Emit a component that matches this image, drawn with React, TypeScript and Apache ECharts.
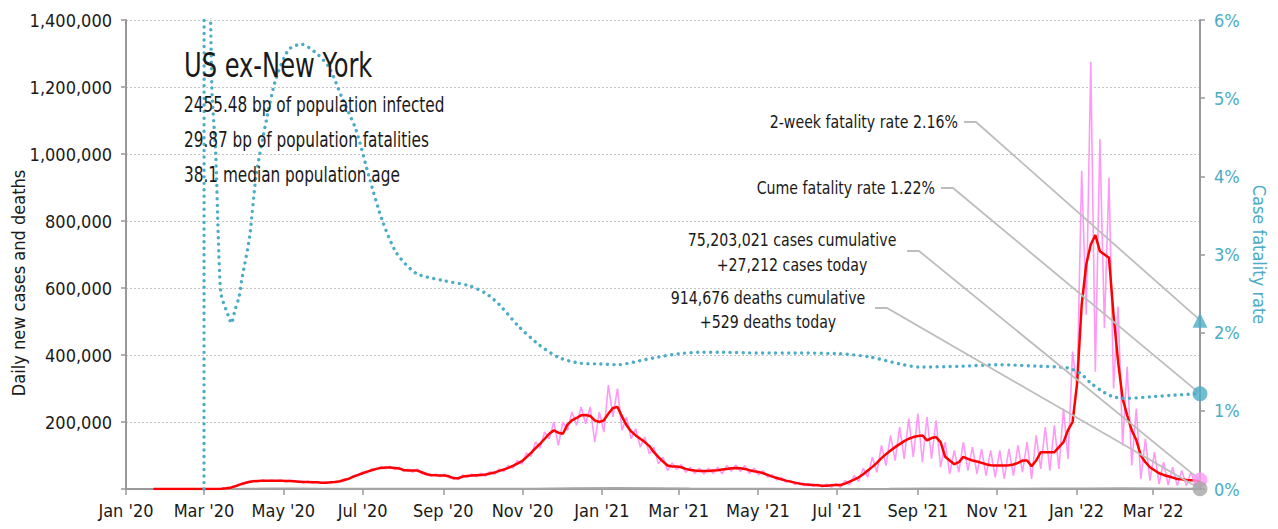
import React, { useEffect, useRef } from "react";
import * as echarts from "echarts";

const FONT = "'Liberation Sans Narrow', 'Arial Narrow', 'DejaVu Sans Condensed', sans-serif";
const DAY_MS = 86400000;

// Daily series sampled every 3.5 days from this date
const SERIES_START = "2020-01-22";
const STEP_DAYS = 3.5;

// Daily new cases (thousands)
const dailyCasesK = [
  0, 0, 0, 0, 0, 0, 0, 0, 0, 0, 0,
  0, 0, 0.2, 0.5, 1, 3, 6, 10, 15, 19,
  22, 25, 22, 27, 23, 27, 23, 27, 22, 26,
  21, 24, 19, 23, 18, 22, 17, 21, 18, 23,
  21, 30, 29, 41, 40, 51, 48, 60, 58, 67,
  60, 68, 58, 65, 52, 59, 50, 60, 46, 48,
  38, 45, 37, 44, 33, 36, 28, 42, 35, 45,
  36, 47, 38, 52, 44, 60, 52, 70, 62, 85,
  74, 108, 98, 140, 122, 170, 150, 200, 130, 200,
  175, 230, 190, 245, 195, 245, 140, 230, 170, 310,
  215, 300, 175, 215, 150, 180, 125, 155, 105, 125,
  75, 95, 55, 78, 58, 73, 50, 65, 46, 62,
  45, 62, 46, 65, 45, 70, 53, 72, 52, 70,
  46, 62, 42, 55, 35, 43, 27, 34, 20, 26,
  13, 20, 10, 16, 8, 14, 6, 14, 6, 16,
  5, 25, 12, 40, 22, 62, 35, 95, 50, 130,
  70, 160, 85, 185, 90, 210, 95, 225, 80, 215,
  90, 205, 65, 140, 45, 115, 50, 140, 55, 125,
  45, 120, 40, 115, 35, 115, 30, 120, 40, 130,
  50, 140, 30, 160, 60, 185, 55, 190, 60, 240,
  90, 410, 300, 950, 520, 1275, 350, 1045, 480, 930,
  300, 545, 130, 365, 70, 240, 30, 150, 25, 110,
  15, 80, 12, 65, 10, 55, 10, 50, 12, 27.212,
];

// 7-day average of new cases (thousands)
const avgCasesK = [
  0, 0, 0, 0, 0, 0, 0, 0, 0, 0, 0,
  0, 0, 0.1, 0.3, 0.8, 2, 4, 8, 13, 17,
  21, 23, 24, 25, 25, 25, 25, 25, 24, 24,
  23, 22, 21, 21, 20, 20, 19, 19, 20, 21,
  23, 27, 31, 37, 42, 47, 52, 56, 60, 63,
  64, 64, 63, 61, 57, 55, 55, 55, 50, 44,
  42, 41, 40, 40, 38, 32, 32, 37, 39, 40,
  41, 42, 43, 46, 49, 54, 58, 63, 69, 76,
  83, 95, 108, 122, 135, 150, 165, 175, 168, 165,
  192, 205, 212, 220, 221, 218, 205, 200, 205, 225,
  242, 245, 216, 190, 172, 160, 150, 140, 128, 110,
  95, 82, 70, 67, 67, 65, 60, 57, 55, 54,
  54, 54, 55, 56, 58, 60, 62, 63, 62, 60,
  56, 53, 51, 47, 42, 37, 33, 29, 25, 22,
  19, 16, 14, 13, 12, 11, 10, 10, 11, 12,
  12, 16, 22, 28, 35, 44, 55, 66, 78, 92,
  104, 115, 125, 134, 143, 150, 155, 158, 160, 145,
  152, 155, 140, 96, 85, 74, 80, 96, 90, 85,
  82, 78, 74, 71, 70, 70, 70, 71, 73, 78,
  85, 85, 68, 85, 110, 110, 110, 110, 125, 140,
  176, 200, 316, 550, 670, 730, 758, 710, 700, 690,
  520, 380, 270, 220, 175, 146, 100, 80, 65, 56,
  47, 42, 38, 34, 30, 29, 27, 26, 25, 24,
];

// Cumulative case fatality rate (%)
const cfrDates = [
  "2020-03-01", "2020-03-02", "2020-03-05", "2020-03-07", "2020-03-10", "2020-03-12",
  "2020-03-14", "2020-03-18", "2020-03-20", "2020-03-22", "2020-03-25", "2020-03-28",
  "2020-03-30", "2020-04-05", "2020-04-10", "2020-04-18", "2020-04-25", "2020-05-05",
  "2020-05-15", "2020-05-26", "2020-06-05", "2020-06-15", "2020-06-26", "2020-07-06",
  "2020-07-16", "2020-07-27", "2020-08-11", "2020-08-31", "2020-09-21", "2020-10-04",
  "2020-10-14", "2020-10-29", "2020-11-14", "2020-11-29", "2020-12-15", "2020-12-30",
  "2021-01-14", "2021-01-30", "2021-02-14", "2021-03-01", "2021-03-17", "2021-04-01",
  "2021-05-02", "2021-06-02", "2021-07-03", "2021-07-26", "2021-08-18", "2021-09-02",
  "2021-10-03", "2021-11-03", "2021-12-04", "2021-12-25", "2022-01-04", "2022-01-11",
  "2022-01-19", "2022-01-29", "2022-02-09", "2022-02-27", "2022-03-16", "2022-04-06",
];
const cfrValues = [
  0, 40, 8, 5.14, 4.3, 3.22,
  2.5, 2.29, 2.2, 2.12, 2.3, 2.46,
  2.67, 3.22, 4.0, 4.72, 5.23, 5.62,
  5.69, 5.58, 5.4, 5.01, 4.59, 3.99,
  3.44, 3.02, 2.76, 2.67, 2.6, 2.5,
  2.36, 2.08, 1.84, 1.68, 1.61, 1.6,
  1.59, 1.64, 1.69, 1.73, 1.75, 1.75,
  1.74, 1.74, 1.73, 1.69, 1.6, 1.56,
  1.57, 1.59, 1.57, 1.55, 1.48, 1.37,
  1.27, 1.18, 1.16, 1.18, 1.2, 1.22,
];

// Daily deaths
const deathDates = [
  "2020-01-22", "2020-03-01", "2020-03-20", "2020-04-05", "2020-04-20", "2020-05-10",
  "2020-06-01", "2020-06-25", "2020-07-20", "2020-08-10", "2020-09-10", "2020-10-10",
  "2020-11-10", "2020-12-10", "2021-01-12", "2021-02-10", "2021-03-10", "2021-04-10",
  "2021-05-10", "2021-06-10", "2021-07-10", "2021-08-10", "2021-09-10", "2021-10-10",
  "2021-11-10", "2021-12-10", "2022-01-10", "2022-02-05", "2022-03-05", "2022-04-06",
];
const deathValues = [
  0, 0, 50, 900, 1500, 1200,
  850, 550, 850, 1000, 780, 700,
  1100, 2300, 3200, 2500, 1300, 700,
  600, 350, 230, 550, 1700, 1500,
  1050, 1200, 1700, 2400, 1400, 529,
];

const monthTicks = [
  "2020-01-01", "2020-03-01", "2020-05-01", "2020-07-01", "2020-09-01", "2020-11-01",
  "2021-01-01", "2021-03-01", "2021-05-01", "2021-07-01", "2021-09-01", "2021-11-01",
  "2022-01-01", "2022-03-01",
];
const monthNames = ["Jan", "Feb", "Mar", "Apr", "May", "Jun", "Jul", "Aug", "Sep", "Oct", "Nov", "Dec"];

const titleText = "US ex-New York";
const statLines = [
  "2455.48 bp of population infected",
  "29.87 bp of population fatalities",
  "38.1 median population age",
];
const fatality2wk = 2.16;
const fatalityCume = 1.22;
const casesCumulative = "75,203,021";
const casesToday = 27212;
const deathsCumulative = "914,676";
const deathsToday = 529;

const CYAN = "#4BACC6";
const PINK = "#FF99F5";
const RED = "#FF0000";
const GREY = "#A6A6A6";

const toT = (s: string) => Date.parse(s + "T00:00:00Z");

export default function App() {
  const ref = useRef<HTMLDivElement>(null);

  useEffect(() => {
    const chart = echarts.init(ref.current!, null, { renderer: "svg" });
    const t0 = toT(SERIES_START);
    const dates = dailyCasesK.map((_, i) => t0 + i * STEP_DAYS * DAY_MS);
    const lastT = dates[dates.length - 1];
    const xMin = toT("2020-01-01");
    const tickVals = monthTicks.map(toT);

    const fmtMonth = (v: number) => {
      const d = new Date(v);
      return `${monthNames[d.getUTCMonth()]} '${String(d.getUTCFullYear()).slice(2)}`;
    };

    chart.setOption({
      animation: false,
      backgroundColor: "#fff",
      textStyle: { fontFamily: FONT },
      grid: { left: 126, top: 20, width: 1074, height: 469, containLabel: false },
      xAxis: {
        type: "value",
        min: xMin,
        max: lastT,
        axisLine: { show: true, lineStyle: { color: "#999", width: 2 } },
        axisTick: { show: true, customValues: tickVals, length: 6, lineStyle: { color: "#999", width: 1.5 } },
        axisLabel: {
          customValues: tickVals,
          formatter: (v: number) => fmtMonth(v),
          fontSize: 18,
          margin: 12,
          color: "#1a1a1a",
          fontFamily: FONT,
        },
        splitLine: { show: false },
      },
      yAxis: [
        {
          type: "value",
          min: 0,
          max: 1400000,
          interval: 200000,
          axisLine: { show: true, lineStyle: { color: "#999", width: 2 } },
          axisTick: { show: true, length: 5, lineStyle: { color: "#999", width: 1.5 } },
          axisLabel: {
            formatter: (v: number) => (v === 0 ? "" : v.toLocaleString("en-US")),
            fontSize: 18,
            margin: 14,
            color: "#1a1a1a",
            fontFamily: FONT,
          },
          splitLine: { show: true, lineStyle: { color: "#c4c4c4", type: [2, 2], width: 1 } },
        },
        {
          type: "value",
          position: "right",
          min: 0,
          max: 6,
          interval: 1,
          axisLine: { show: true, lineStyle: { color: "#999", width: 2 } },
          axisTick: { show: true, length: 5, lineStyle: { color: "#999", width: 1.5 } },
          axisLabel: { formatter: "{value}%", fontSize: 18, margin: 14, color: CYAN, fontFamily: FONT },
          splitLine: { show: false },
          name: "Case fatality rate",
          nameLocation: "middle",
          nameRotate: -90,
          nameGap: 50,
          nameTextStyle: { color: CYAN, fontSize: 18, fontFamily: FONT },
        },
      ],
      series: [
        {
          name: "Daily deaths",
          type: "line",
          yAxisIndex: 0,
          data: deathDates.map((d, i) => [toT(d), deathValues[i]]),
          symbol: "none",
          lineStyle: { color: GREY, width: 2 },
          z: 2,
        },
        {
          name: "Daily cases",
          type: "line",
          yAxisIndex: 0,
          data: dates.map((t, i) => [t, dailyCasesK[i] * 1000]),
          symbol: "none",
          lineStyle: { color: PINK, width: 1.6 },
          z: 3,
        },
        {
          name: "7-day average",
          type: "line",
          yAxisIndex: 0,
          data: dates.map((t, i) => [t, avgCasesK[i] * 1000]),
          symbol: "none",
          lineStyle: { color: RED, width: 2.5 },
          z: 4,
        },
        {
          name: "Case fatality rate",
          type: "line",
          yAxisIndex: 1,
          data: cfrDates.map((d, i) => [toT(d), cfrValues[i]]),
          symbol: "none",
          smooth: 0.25,
          clip: true,
          lineStyle: { color: CYAN, width: 3.4, type: [0.01, 6.5], cap: "round" },
          z: 5,
        },
        {
          name: "markers-rate",
          type: "scatter",
          yAxisIndex: 1,
          clip: false,
          z: 8,
          data: [
            { value: [lastT, fatality2wk], symbol: "triangle", symbolSize: 15, itemStyle: { color: CYAN } },
            { value: [lastT, fatalityCume], symbol: "circle", symbolSize: 15, itemStyle: { color: CYAN } },
          ],
        },
        {
          name: "markers-count",
          type: "scatter",
          yAxisIndex: 0,
          clip: false,
          z: 8,
          data: [
            { value: [lastT, casesToday], symbol: "circle", symbolSize: 15, itemStyle: { color: PINK } },
            { value: [lastT, deathsToday], symbol: "circle", symbolSize: 15, itemStyle: { color: GREY } },
          ],
        },
      ],
    });

    const p = (yAxisIndex: number, v: number) =>
      chart.convertToPixel({ xAxisIndex: 0, yAxisIndex }, [lastT, v]) as number[];
    const a2 = p(1, fatality2wk);
    const aC = p(1, fatalityCume);
    const aCases = p(0, casesToday);
    const aDeaths = p(0, deathsToday);

    const lineStyle = { stroke: "#BDBDBD", lineWidth: 1.8, fill: null };
    const leader = (x0: number, y0: number, end: number[]) => ({
      type: "polyline",
      z: 6,
      silent: true,
      shape: { points: [[x0, y0], [x0 + 12, y0], end] },
      style: lineStyle,
    });
    const txt = (x: number, y: number, text: string, align: string, size: number, sx: number) => ({
      type: "text",
      x,
      y,
      scaleX: sx,
      z: 7,
      silent: true,
      style: { text, fontSize: size, fontFamily: FONT, fill: "#1a1a1a", align, verticalAlign: "middle" },
    });

    chart.setOption({
      graphic: [
        txt(184, 65, titleText, "left", 34, 0.79),
        ...statLines.map((s, i) => txt(184, 105 + i * 35, s, "left", 21, 0.81)),
        {
          type: "text",
          x: 18,
          y: 283,
          rotation: Math.PI / 2,
          silent: true,
          style: {
            text: "Daily new cases and deaths",
            fontSize: 18,
            fontFamily: FONT,
            fill: "#1a1a1a",
            align: "center",
            verticalAlign: "middle",
          },
        },
        txt(958, 122, `2-week fatality rate ${fatality2wk.toFixed(2)}%`, "right", 18, 0.875),
        txt(935, 188, `Cume fatality rate ${fatalityCume.toFixed(2)}%`, "right", 18, 0.875),
        txt(792, 240, `${casesCumulative} cases cumulative`, "center", 18, 0.875),
        txt(792, 265, `+${casesToday.toLocaleString("en-US")} cases today`, "center", 18, 0.875),
        txt(768, 298, `${deathsCumulative} deaths cumulative`, "center", 18, 0.875),
        txt(768, 322, `+${deathsToday.toLocaleString("en-US")} deaths today`, "center", 18, 0.875),
        leader(964, 122, a2),
        leader(941, 188, aC),
        leader(907, 251, aCases),
        leader(875, 308, aDeaths),
      ],
    });

    return () => chart.dispose();
  }, []);

  return (
    <div
      ref={ref}
      style={{ position: "fixed", left: 0, top: 0, width: 1278, height: 529, background: "#fff" }}
    />
  );
}
